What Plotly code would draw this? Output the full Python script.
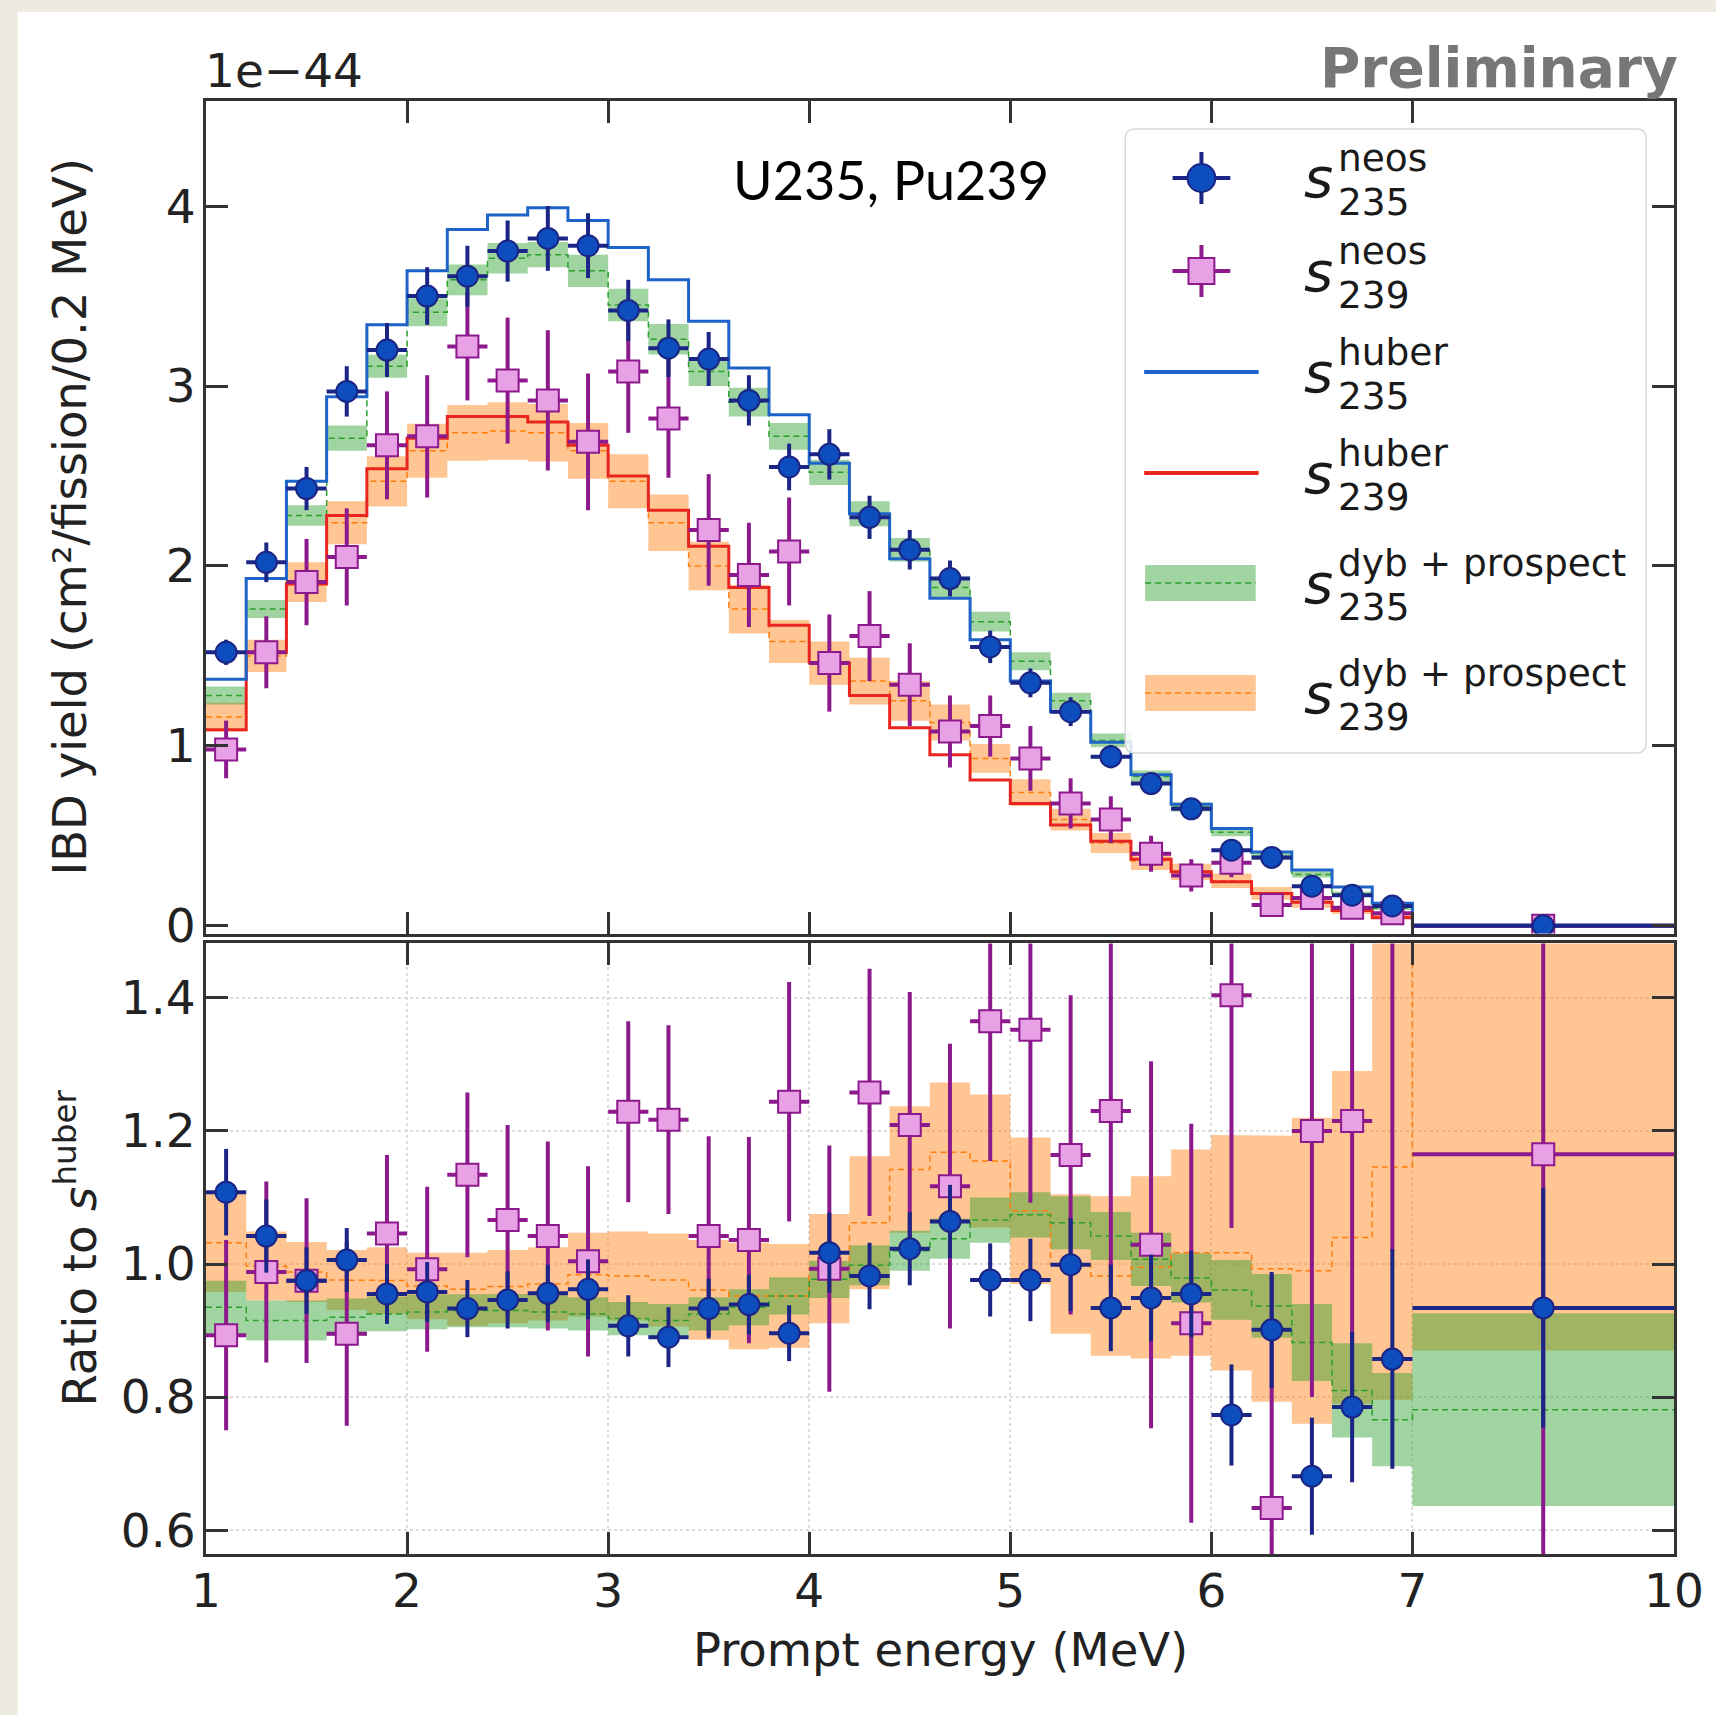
import plotly.graph_objects as go

# ---------------- data ----------------
bin_edges = [1.0, 1.2, 1.4, 1.6, 1.8, 2.0, 2.2, 2.4, 2.6, 2.8, 3.0, 3.2, 3.4, 3.6, 3.8, 4.0,
             4.2, 4.4, 4.6, 4.8, 5.0, 5.2, 5.4, 5.6, 5.8, 6.0, 6.2, 6.4, 6.6, 6.8, 7.0, 10.0]
tick_mev = [1, 2, 3, 4, 5, 6, 7, 10]
tick_labels = ["1", "2", "3", "4", "5", "6", "7", "10"]
ratio_ticks = [0.6, 0.8, 1.0, 1.2, 1.4]
ratio_tick_labels = ["0.6", "0.8", "1.0", "1.2", "1.4"]
yield_ticks = [0, 1, 2, 3, 4]

# top panel, units of 1e-44 cm^2/fission/0.2 MeV
neos_235 = [1.52, 2.02, 2.43, 2.97, 3.20, 3.50, 3.61, 3.75, 3.82, 3.78, 3.42, 3.21, 3.15, 2.92, 2.55, 2.62,
            2.27, 2.09, 1.93, 1.55, 1.35, 1.19, 0.94, 0.79, 0.65, 0.42, 0.38, 0.22, 0.17, 0.11, 0.0]
neos_235_err = [0.07, 0.11, 0.12, 0.14, 0.15, 0.16, 0.17, 0.17, 0.18, 0.18, 0.17, 0.16, 0.15, 0.14, 0.13, 0.14,
                0.12, 0.11, 0.10, 0.09, 0.08, 0.08, 0.065, 0.055, 0.045, 0.04, 0.035, 0.025, 0.02, 0.02, 0.01]
neos_239 = [0.98, 1.52, 1.91, 2.05, 2.67, 2.72, 3.22, 3.03, 2.92, 2.69, 3.08, 2.82, 2.20, 1.95, 2.08, 1.46,
            1.61, 1.34, 1.08, 1.11, 0.93, 0.68, 0.59, 0.40, 0.28, 0.35, 0.115, 0.155, 0.10, 0.07, 0.0]
neos_239_err = [0.16, 0.20, 0.24, 0.27, 0.30, 0.34, 0.30, 0.35, 0.39, 0.38, 0.34, 0.33, 0.31, 0.29, 0.30, 0.27,
                0.25, 0.23, 0.20, 0.17, 0.18, 0.14, 0.13, 0.10, 0.09, 0.08, 0.06, 0.05, 0.035, 0.025, 0.01]
huber_235 = [1.37, 1.93, 2.47, 2.94, 3.34, 3.64, 3.87, 3.95, 3.99, 3.92, 3.77, 3.59, 3.36, 3.10, 2.84, 2.57,
             2.29, 2.04, 1.82, 1.59, 1.36, 1.19, 1.02, 0.84, 0.676, 0.54, 0.41, 0.31, 0.215, 0.125, 0.003]
huber_239 = [1.09, 1.52, 1.90, 2.28, 2.54, 2.71, 2.83, 2.83, 2.80, 2.67, 2.50, 2.31, 2.11, 1.88, 1.67, 1.46,
             1.28, 1.10, 0.95, 0.81, 0.68, 0.56, 0.47, 0.37, 0.30, 0.245, 0.18, 0.13, 0.085, 0.045, 0.002]
dyb_235 = [1.28, 1.76, 2.28, 2.71, 3.11, 3.41, 3.59, 3.71, 3.73, 3.64, 3.45, 3.26, 3.08, 2.91, 2.72, 2.52,
           2.29, 2.09, 1.88, 1.69, 1.47, 1.25, 1.03, 0.83, 0.66, 0.52, 0.385, 0.285, 0.175, 0.097, 0.002]
dyb_235_err = [0.05, 0.05, 0.057, 0.07, 0.064, 0.078, 0.085, 0.085, 0.07, 0.09, 0.09, 0.085, 0.08, 0.08, 0.075, 0.07,
               0.07, 0.065, 0.06, 0.055, 0.05, 0.045, 0.038, 0.033, 0.025, 0.022, 0.019, 0.017, 0.015, 0.009, 0.001]
dyb_239 = [1.16, 1.50, 1.91, 2.24, 2.47, 2.64, 2.74, 2.75, 2.74, 2.64, 2.47, 2.24, 2.00, 1.76, 1.58, 1.46,
           1.36, 1.25, 1.13, 0.93, 0.74, 0.59, 0.46, 0.36, 0.30, 0.25, 0.18, 0.13, 0.088, 0.052, 0.003]
dyb_239_err = [0.08, 0.09, 0.11, 0.12, 0.14, 0.15, 0.155, 0.16, 0.16, 0.155, 0.15, 0.157, 0.135, 0.135, 0.12, 0.12,
               0.13, 0.11, 0.10, 0.08, 0.075, 0.06, 0.055, 0.05, 0.045, 0.04, 0.035, 0.03, 0.022, 0.015, 0.002]

# bottom panel: ratio to huber
ratio_neos_235 = [1.108, 1.042, 0.975, 1.006, 0.955, 0.958, 0.933, 0.946, 0.956, 0.962, 0.907, 0.890, 0.933, 0.939,
                  0.896, 1.017, 0.982, 1.023, 1.064, 0.976, 0.976, 0.999, 0.934, 0.949, 0.955, 0.773, 0.901, 0.681,
                  0.785, 0.857, 0.934]
ratio_neos_235_err = [0.065, 0.055, 0.05, 0.048, 0.045, 0.045, 0.043, 0.043, 0.043, 0.045, 0.046, 0.045, 0.045, 0.045,
                      0.042, 0.06, 0.05, 0.055, 0.055, 0.055, 0.062, 0.07, 0.065, 0.065, 0.065, 0.076, 0.087, 0.088,
                      0.113, 0.165, 0.18]
ratio_neos_239 = [0.893, 0.988, 0.975, 0.895, 1.046, 0.992, 1.134, 1.066, 1.042, 1.004, 1.229, 1.217, 1.042, 1.036,
                  1.244, 0.993, 1.258, 1.209, 1.117, 1.365, 1.352, 1.164, 1.230, 1.029, 0.911, 1.404, 0.633, 1.200,
                  1.215, 1.60, 1.165]
ratio_neos_239_err = [0.143, 0.136, 0.124, 0.138, 0.118, 0.124, 0.124, 0.143, 0.142, 0.143, 0.136, 0.142, 0.15, 0.155,
                      0.18, 0.185, 0.186, 0.2, 0.214, 0.21, 0.26, 0.24, 0.27, 0.276, 0.30, 0.35, 0.35, 0.4, 0.41,
                      0.58, 0.7]
ratio_dyb_235 = [0.935, 0.915, 0.915, 0.92, 0.925, 0.928, 0.93, 0.93, 0.928, 0.925, 0.918, 0.915, 0.925, 0.935,
                 0.952, 0.977, 0.998, 1.020, 1.038, 1.066, 1.074, 1.062, 1.042, 1.007, 0.979, 0.961, 0.937, 0.882,
                 0.810, 0.766, 0.781]
ratio_dyb_235_err = [0.04, 0.03, 0.03, 0.028, 0.026, 0.026, 0.025, 0.025, 0.025, 0.025, 0.025, 0.025, 0.025, 0.027,
                     0.028, 0.028, 0.03, 0.03, 0.03, 0.034, 0.034, 0.04, 0.036, 0.04, 0.037, 0.045, 0.048, 0.058,
                     0.071, 0.07, 0.145]
ratio_dyb_239 = [1.032, 0.997, 0.988, 0.976, 0.975, 0.967, 0.962, 0.966, 0.970, 0.984, 0.982, 0.976, 0.961, 0.952,
                 0.952, 0.993, 1.062, 1.142, 1.168, 1.155, 1.08, 1.0, 0.982, 0.995, 1.017, 1.017, 0.993, 0.99,
                 1.04, 1.146, 1.67]
ratio_dyb_239_err = [0.074, 0.052, 0.045, 0.045, 0.05, 0.05, 0.055, 0.055, 0.055, 0.063, 0.067, 0.07, 0.075, 0.08,
                     0.078, 0.082, 0.10, 0.095, 0.105, 0.10, 0.11, 0.105, 0.12, 0.137, 0.155, 0.177, 0.2, 0.23,
                     0.25, 0.35, 0.80]

legend_sup = ["neos", "neos", "huber", "huber", "dyb + prospect", "dyb + prospect"]
legend_sub = ["235", "239", "235", "239", "235", "239"]

# ---------------- styling / layout ----------------
FIG_W, FIG_H = 1716, 1715
M_L, M_R, M_T, M_B = 206, 36, 101, 161
PLOT_W = FIG_W - M_L - M_R
PLOT_H = FIG_H - M_T - M_B
FONT = "DejaVu Sans"
AX = "#333333"
TXT = "#222222"

BLUE_FILL = "#0d4dbd"
NAVY = "#1b2585"
PINK_FILL = "#e7a1e4"
PURPLE = "#8d1a8d"
HUBER_BLUE = "#1e63c8"
HUBER_RED = "#e8261f"
GREEN_FILL = "rgba(44,160,44,0.45)"
ORANGE_FILL = "rgba(255,127,14,0.45)"
GREEN_LINE = "#2ca02c"
ORANGE_LINE = "#ff7f0e"


def px(x):
    return (x - M_L) / PLOT_W


def py(y):
    return (FIG_H - M_B - y) / PLOT_H


# broken energy axis: 1-7 MeV linear, 7-10 MeV compressed
BREAK = 7.0
TAIL_SCALE = 1.3008 / 3.0


def to_axis(e):
    return e if e <= BREAK else BREAK + (e - BREAK) * TAIL_SCALE


u_edges = [to_axis(e) for e in bin_edges]
u_centers = [(a + b) / 2 for a, b in zip(u_edges[:-1], u_edges[1:])]
u_half = [(b - a) / 2 for a, b in zip(u_edges[:-1], u_edges[1:])]
x_range = [u_edges[0], u_edges[-1]]

fig = go.Figure()


def step_xy(vals):
    xs, ys = [], []
    for i, v in enumerate(vals):
        xs += [u_edges[i], u_edges[i + 1]]
        ys += [v, v]
    return xs, ys


def add_band(center, half, fill, xa, ya):
    hi = [c + h for c, h in zip(center, half)]
    lo = [c - h for c, h in zip(center, half)]
    xh, yh = step_xy(hi)
    xl, yl = step_xy(lo)
    fig.add_trace(go.Scatter(x=xh + xl[::-1], y=yh + yl[::-1], fill="toself", fillcolor=fill,
                             mode="lines", line=dict(width=0), hoverinfo="skip", showlegend=False,
                             xaxis=xa, yaxis=ya))


def add_step(vals, color, width, dash, xa, ya):
    xs, ys = step_xy(vals)
    fig.add_trace(go.Scatter(x=xs, y=ys, mode="lines", line=dict(color=color, width=width, dash=dash),
                             hoverinfo="skip", showlegend=False, xaxis=xa, yaxis=ya))


def add_points(vals, errs, symbol, size, fill, edge, xa, ya):
    fig.add_trace(go.Scatter(
        x=u_centers, y=vals, mode="markers",
        marker=dict(symbol=symbol, size=size, color=fill, line=dict(color=edge, width=2)),
        error_y=dict(type="data", array=errs, visible=True, color=edge, thickness=4, width=0),
        error_x=dict(type="data", array=u_half, visible=True, color=edge, thickness=4, width=0),
        hoverinfo="skip", showlegend=False, xaxis=xa, yaxis=ya))


DASH = "6px,4px"
# top panel
add_band(dyb_239, dyb_239_err, ORANGE_FILL, "x", "y")
add_band(dyb_235, dyb_235_err, GREEN_FILL, "x", "y")
add_step(dyb_239, ORANGE_LINE, 1.5, DASH, "x", "y")
add_step(dyb_235, GREEN_LINE, 1.5, DASH, "x", "y")
add_step(huber_239, HUBER_RED, 3, "solid", "x", "y")
add_step(huber_235, HUBER_BLUE, 3, "solid", "x", "y")
add_points(neos_239, neos_239_err, "square", 22, PINK_FILL, PURPLE, "x", "y")
add_points(neos_235, neos_235_err, "circle", 21, BLUE_FILL, NAVY, "x", "y")

# ratio panel
add_band(ratio_dyb_239, ratio_dyb_239_err, ORANGE_FILL, "x2", "y2")
add_band(ratio_dyb_235, ratio_dyb_235_err, GREEN_FILL, "x2", "y2")
add_step(ratio_dyb_239, ORANGE_LINE, 1.5, DASH, "x2", "y2")
add_step(ratio_dyb_235, GREEN_LINE, 1.5, DASH, "x2", "y2")
add_points(ratio_neos_239, ratio_neos_239_err, "square", 22, PINK_FILL, PURPLE, "x2", "y2")
add_points(ratio_neos_235, ratio_neos_235_err, "circle", 21, BLUE_FILL, NAVY, "x2", "y2")

tickfont = dict(family=FONT, size=47, color=TXT)
axis_common = dict(showline=True, linecolor=AX, linewidth=3, mirror="ticks", ticks="inside",
                   ticklen=22, tickwidth=2.5, tickcolor=AX, zeroline=False, tickfont=tickfont)
u_ticks = [to_axis(t) for t in tick_mev]

fig.update_layout(
    width=FIG_W, height=FIG_H,
    margin=dict(l=M_L, r=M_R, t=M_T, b=M_B),
    paper_bgcolor="#eeeadf", plot_bgcolor="white",
    showlegend=False, hovermode=False,
    xaxis=dict(domain=[0, 1], anchor="y", range=x_range, tickvals=u_ticks, ticktext=tick_labels,
               showticklabels=False, showgrid=False, **axis_common),
    yaxis=dict(domain=[py(933.5), 1], anchor="x", range=[-0.043, 4.584], tickvals=yield_ticks,
               ticktext=[str(t) for t in yield_ticks], showgrid=False, ticklabelstandoff=-2, **axis_common),
    xaxis2=dict(domain=[0, 1], anchor="y2", range=x_range, tickvals=u_ticks, ticktext=tick_labels,
                showgrid=True, gridcolor="#dcdcdc", griddash="dot", gridwidth=1.5, ticklabelstandoff=-6,
                **axis_common),
    yaxis2=dict(domain=[0, py(943.4)], anchor="x2", range=[0.564, 1.482], tickvals=ratio_ticks,
                ticktext=ratio_tick_labels, showgrid=True, gridcolor="#dcdcdc", griddash="dot",
                gridwidth=1.5, ticklabelstandoff=-2, **axis_common),
)

shapes = []
# white card on beige page
shapes.append(dict(type="rect", xref="paper", yref="paper", x0=px(17), x1=px(FIG_W + 10),
                   y0=py(12), y1=py(FIG_H + 10), fillcolor="white", line=dict(width=0), layer="below"))


def rounded_rect_path(x0, y0, x1, y1, r):
    return (f"M {px(x0 + r)},{py(y0)} L {px(x1 - r)},{py(y0)} Q {px(x1)},{py(y0)} {px(x1)},{py(y0 + r)} "
            f"L {px(x1)},{py(y1 - r)} Q {px(x1)},{py(y1)} {px(x1 - r)},{py(y1)} "
            f"L {px(x0 + r)},{py(y1)} Q {px(x0)},{py(y1)} {px(x0)},{py(y1 - r)} "
            f"L {px(x0)},{py(y0 + r)} Q {px(x0)},{py(y0)} {px(x0 + r)},{py(y0)} Z")


shapes.append(dict(type="path", xref="paper", yref="paper", path=rounded_rect_path(1129, 129, 1652, 753, 10),
                   fillcolor="rgba(255,255,255,0.85)", line=dict(color="#d8d8d8", width=1.5)))

row_y = [178, 271, 372, 473, 583, 693]
SX0, SX1, SCX = 1148, 1263, 1205.5


def pline(x0, y0, x1, y1, color, width, dash="solid"):
    return dict(type="line", xref="paper", yref="paper", x0=px(x0), y0=py(y0), x1=px(x1), y1=py(y1),
                line=dict(color=color, width=width, dash=dash))


for i, ry in enumerate(row_y):
    if i in (0, 1):
        col = NAVY if i == 0 else PURPLE
        shapes.append(pline(SCX - 29, ry, SCX + 29, ry, col, 4))
        shapes.append(pline(SCX, ry - 26, SCX, ry + 26, col, 4))
        if i == 0:
            r = 14
            shapes.append(dict(type="circle", xref="paper", yref="paper", x0=px(SCX - r), x1=px(SCX + r),
                               y0=py(ry + r), y1=py(ry - r), fillcolor=BLUE_FILL, line=dict(color=NAVY, width=2)))
        else:
            r = 13
            shapes.append(dict(type="rect", xref="paper", yref="paper", x0=px(SCX - r), x1=px(SCX + r),
                               y0=py(ry + r), y1=py(ry - r), fillcolor=PINK_FILL, line=dict(color=PURPLE, width=2)))
    elif i in (2, 3):
        shapes.append(pline(SX0, ry, SX1, ry, HUBER_BLUE if i == 2 else HUBER_RED, 4))
    else:
        fill = GREEN_FILL if i == 4 else ORANGE_FILL
        lc = GREEN_LINE if i == 4 else ORANGE_LINE
        shapes.append(dict(type="rect", xref="paper", yref="paper", x0=px(SX0 + 1), x1=px(SX1 - 3),
                           y0=py(ry + 18), y1=py(ry - 18), fillcolor=fill, line=dict(width=0)))
        shapes.append(pline(SX0 + 1, ry, SX1 - 3, ry, lc, 1.5, DASH))

fig.update_layout(shapes=shapes)

ann = []
LEG_FONT = dict(family=FONT, size=37.5, color="#1a1a1a")
for i, ry in enumerate(row_y):
    ann.append(dict(text="<i>s</i>", x=px(1307), y=py(ry), xref="paper", yref="paper", xanchor="left",
                    yanchor="middle", showarrow=False, borderpad=0,
                    font=dict(family=FONT, size=56, color="#1a1a1a")))
    ann.append(dict(text=legend_sup[i], x=px(1341.5), y=py(ry - 20), xref="paper", yref="paper",
                    xanchor="left", yanchor="middle", showarrow=False, borderpad=0, font=LEG_FONT))
    ann.append(dict(text=legend_sub[i], x=px(1341.5), y=py(ry + 24.2), xref="paper", yref="paper",
                    xanchor="left", yanchor="middle", showarrow=False, borderpad=0, font=LEG_FONT))

ann.append(dict(text="U235, Pu239", x=px(894), y=py(180), xref="paper", yref="paper", xanchor="center",
                yanchor="middle", showarrow=False, font=dict(family="Lato", size=54, color="black")))
ann.append(dict(text="Preliminary", x=px(1685), y=py(101), xref="paper", yref="paper", xanchor="right",
                yanchor="bottom", showarrow=False, borderpad=0,
                font=dict(family=FONT, size=55, color="#777777", weight="bold")))
ann.append(dict(text="1e\u221244", x=px(204), y=py(99), xref="paper", yref="paper", xanchor="left",
                yanchor="bottom", showarrow=False, borderpad=0, font=dict(family=FONT, size=47, color=TXT)))
ann.append(dict(text="IBD yield (cm\u00b2/fission/0.2 MeV)", x=px(69), y=py(517), xref="paper",
                yref="paper", xanchor="center", yanchor="middle", textangle=-90, showarrow=False,
                font=dict(family=FONT, size=46.5, color=TXT)))
ann.append(dict(text="Ratio to <i>s</i>", x=px(79), y=py(1297), xref="paper",
                yref="paper", xanchor="center", yanchor="middle", textangle=-90, showarrow=False,
                font=dict(family=FONT, size=46.5, color=TXT)))
ann.append(dict(text="huber", x=px(64), y=py(1138), xref="paper",
                yref="paper", xanchor="center", yanchor="middle", textangle=-90, showarrow=False,
                font=dict(family=FONT, size=32.6, color=TXT)))
ann.append(dict(text="Prompt energy (MeV)", x=px(943), y=py(1650), xref="paper", yref="paper",
                xanchor="center", yanchor="middle", showarrow=False,
                font=dict(family=FONT, size=46.5, color=TXT)))
fig.update_layout(annotations=ann)

fig.write_html("out.html")
